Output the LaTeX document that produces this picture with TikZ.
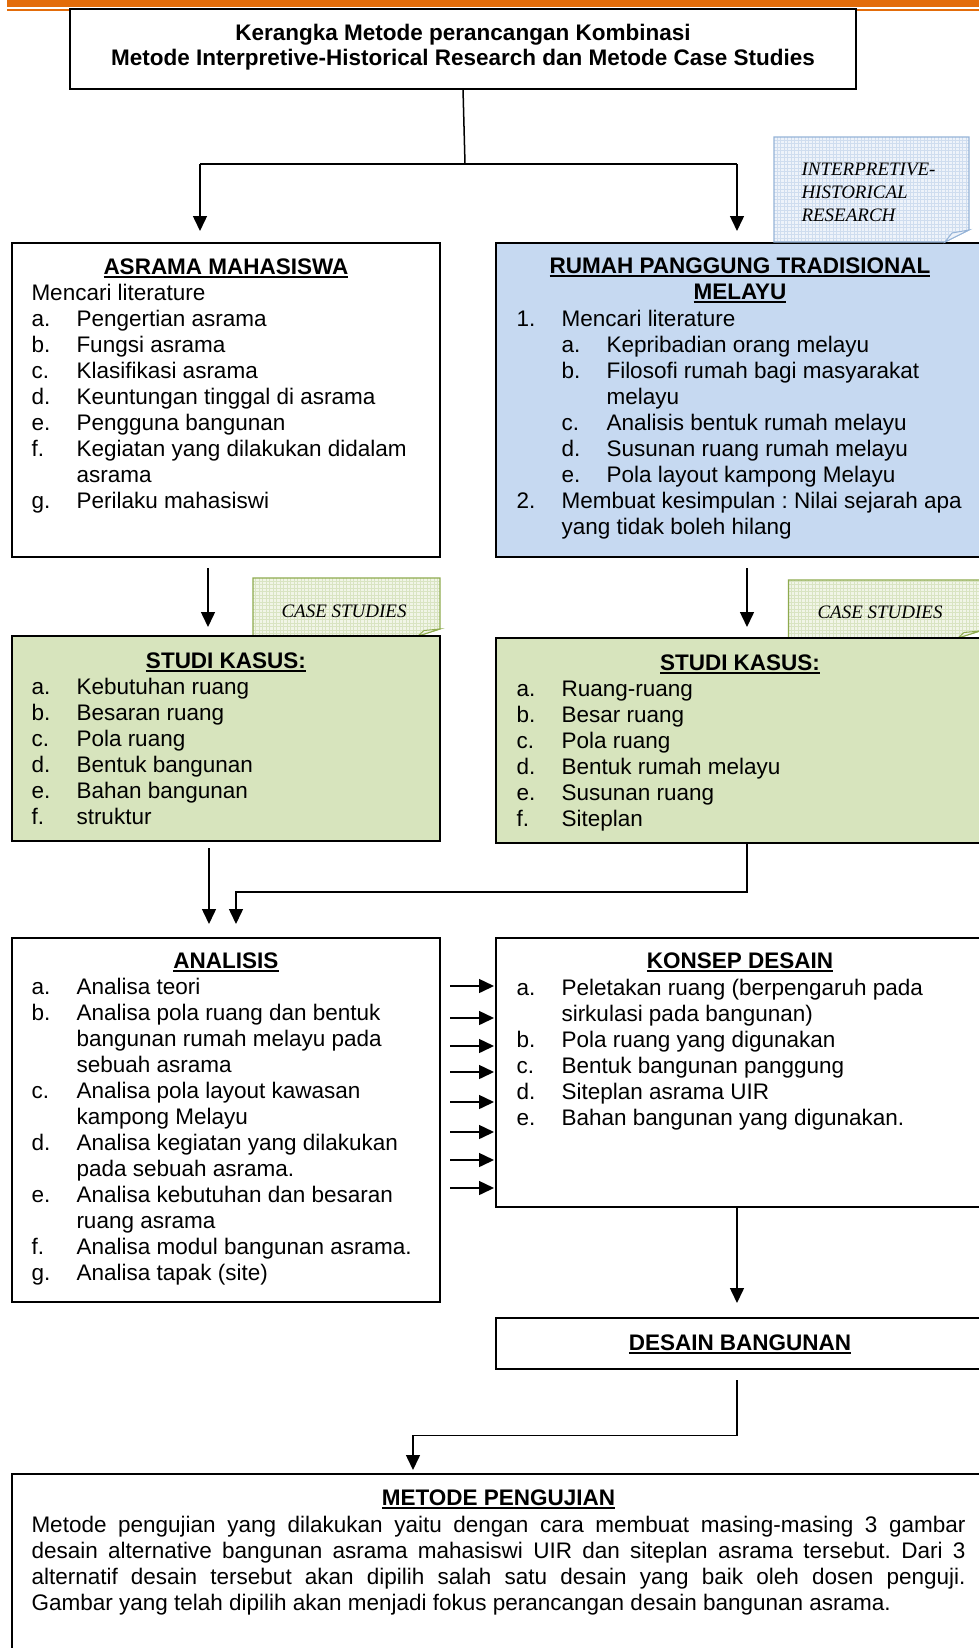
\documentclass[tikz,border=0pt]{standalone}
\usepackage{fontspec}
\setmainfont{Liberation Sans}
\newfontfamily\notefont{Liberation Serif}
\usetikzlibrary{arrows.meta}
\frenchspacing
\definecolor{orangebar}{HTML}{E36C0A}
\definecolor{bluefill}{HTML}{C6D9F1}
\definecolor{greenfill}{HTML}{D7E4BD}
\definecolor{notebluefill}{HTML}{EEF3FA}
\definecolor{notebluegrid}{HTML}{CFDDEF}
\definecolor{noteblueline}{HTML}{95B3D7}
\definecolor{notegreenfill}{HTML}{F1F5E7}
\definecolor{notegreengrid}{HTML}{D9E4C2}
\definecolor{notegreenline}{HTML}{8EAA4E}
\newcommand\hul[1]{\setbox0\hbox{#1}\rlap{\raisebox{-3.8pt}{\rule{\wd0}{1.9pt}}}\box0}
\newcommand\rowitem[6]{\node[txt] (#1a) at (#2,#4) {#5};\node[txt] (#1b) at (#3,#4) {#6};}
\tikzset{
  box/.style={draw=black, line width=1.8pt, rectangle, inner sep=0pt, outer sep=0pt, anchor=north west},
  txt/.style={anchor=base west, inner sep=0pt, outer sep=0pt, font=\fontsize{22.5}{26}\selectfont},
  hd/.style={anchor=base, inner sep=0pt, outer sep=0pt, font=\fontsize{22.5}{26}\selectfont\bfseries},
  notetxt/.style={anchor=base west, inner sep=0pt, outer sep=0pt, font=\notefont\itshape\fontsize{19}{23}\selectfont},
  con/.style={line width=1.5pt},
  arr/.style={line width=1.5pt, -{Triangle[length=15pt,width=14pt]}},
}
\begin{document}
\begin{tikzpicture}[x=1pt,y=-1pt]
\useasboundingbox (0,0) rectangle (979,1648);
\clip (0,0) rectangle (979,1648);
% orange header lines
\fill[orangebar] (7,0) rectangle (979,7.3);
\fill[orangebar] (7,9) rectangle (979,10.7);

% ---------- title ----------
\node[box, fill=white, minimum width=786pt, minimum height=80pt] (title) at (70,9) {};
\node[hd] (t1) at (463,40.5) {Kerangka Metode perancangan Kombinasi};
\node[hd] (t2) at (463,65.5) {Metode Interpretive-Historical Research dan Metode Case Studies};

\coordinate (split) at (465,164);
\coordinate (tl) at (200,164);
\coordinate (tr) at (737,164);
\coordinate (tlend) at (200,231);
\coordinate (trend) at (737,231);
\draw[con] (title.south) -- (split);
\draw[con] (tl) -- (tr);
\draw[arr] (tl) -- (tlend);
\draw[arr] (tr) -- (trend);

% ---------- ASRAMA MAHASISWA ----------
\node[box, minimum width=428pt, minimum height=314pt] (asrama) at (12,243) {};
\node[hd] (asramah) at (226,274) {\hul{ASRAMA MAHASISWA}};
\node[txt] (as0) at (31.5,300) {Mencari literature};
\rowitem{as1}{31.5}{76.5}{326}{a.}{Pengertian asrama}
\rowitem{as2}{31.5}{76.5}{352}{b.}{Fungsi asrama}
\rowitem{as3}{31.5}{76.5}{378}{c.}{Klasifikasi asrama}
\rowitem{as4}{31.5}{76.5}{404}{d.}{Keuntungan tinggal di asrama}
\rowitem{as5}{31.5}{76.5}{430}{e.}{Pengguna bangunan}
\rowitem{as6}{31.5}{76.5}{456}{f.}{Kegiatan yang dilakukan didalam}
\node[txt] (as6c) at (76.5,482) {asrama};
\rowitem{as7}{31.5}{76.5}{508}{g.}{Perilaku mahasiswi}

% ---------- RUMAH PANGGUNG ----------
\node[box, fill=bluefill, minimum width=494pt, minimum height=314pt] (rumah) at (496,243) {};
\node[hd] (rumahh1) at (740,273) {\hul{RUMAH PANGGUNG TRADISIONAL}};
\node[hd] (rumahh2) at (740,299) {\hul{MELAYU}};
\rowitem{ru0}{516.5}{561.5}{326}{1.}{Mencari literature}
\rowitem{ru1}{561.5}{606.5}{352}{a.}{Kepribadian orang melayu}
\rowitem{ru2}{561.5}{606.5}{378}{b.}{Filosofi rumah bagi masyarakat}
\node[txt] (ru2c) at (606.5,404) {melayu};
\rowitem{ru3}{561.5}{606.5}{430}{c.}{Analisis bentuk rumah melayu}
\rowitem{ru4}{561.5}{606.5}{456}{d.}{Susunan ruang rumah melayu}
\rowitem{ru5}{561.5}{606.5}{482}{e.}{Pola layout kampong Melayu}
\rowitem{ru6}{516.5}{561.5}{508}{2.}{Membuat kesimpulan : Nilai sejarah apa}
\node[txt] (ru6c) at (561.5,534) {yang tidak boleh hilang};

% ---------- note: interpretive-historical ----------
\begin{scope}
  \clip (774,137) -- (969,137) -- (969,230) -- (945,242) -- (774,242) -- cycle;
  \fill[notebluefill] (774,137) rectangle (969,242);
  \draw[notebluegrid, line width=0.4pt, step=3.5pt] (774,137) grid (969,242);
\end{scope}
\draw[noteblueline, line width=1.1pt] (774,137) -- (969,137) -- (969,230) -- (945,242) -- (774,242) -- cycle;
\filldraw[fill=notebluefill, draw=noteblueline, line width=1pt] (945,242) -- (969,230) -- (952,233) -- cycle;
\node[notetxt] (ih1) at (801.5,175.5) {INTERPRETIVE-};
\node[notetxt] (ih2) at (801.5,198.5) {HISTORICAL};
\node[notetxt] (ih3) at (801.5,221.5) {RESEARCH};

% arrows to studi kasus
\coordinate (al1) at (208,568);
\coordinate (al2) at (208,627);
\coordinate (ar1) at (747,568);
\coordinate (ar2) at (747,627);
\draw[arr] (al1) -- (al2);
\draw[arr] (ar1) -- (ar2);

% ---------- note: case studies left ----------
\begin{scope}
  \clip (253,578) -- (440,578) -- (440,629) -- (418,636) -- (253,636) -- cycle;
  \fill[notegreenfill] (253,578) rectangle (440,636);
  \draw[notegreengrid, line width=0.4pt, step=3.5pt] (253,578) grid (440,636);
\end{scope}
\draw[notegreenline, line width=1.1pt] (253,578) -- (440,578) -- (440,629) -- (418,636) -- (253,636) -- cycle;
\filldraw[fill=notegreenfill, draw=notegreenline, line width=1pt] (418,636) -- (440,629) -- (424,630.5) -- cycle;
\node[notetxt] (csl) at (281.5,617) {CASE STUDIES};

% ---------- note: case studies right ----------
\begin{scope}
  \clip (788.5,580) -- (980,580) -- (980,631) -- (958,638) -- (788.5,638) -- cycle;
  \fill[notegreenfill] (788.5,580) rectangle (980,638);
  \draw[notegreengrid, line width=0.4pt, step=3.5pt] (788.5,580) grid (980,638);
\end{scope}
\draw[notegreenline, line width=1.1pt] (788.5,580) -- (980,580) -- (980,631) -- (958,638) -- (788.5,638) -- cycle;
\filldraw[fill=notegreenfill, draw=notegreenline, line width=1pt] (958,638) -- (980,631) -- (964,632.5) -- cycle;
\node[notetxt] (csr) at (817.5,618.5) {CASE STUDIES};

% ---------- STUDI KASUS left ----------
\node[box, fill=greenfill, minimum width=428pt, minimum height=205pt] (skl) at (12,636) {};
\node[hd] (sklh) at (226,668) {\hul{STUDI KASUS:}};
\rowitem{sl1}{31.5}{76.5}{694}{a.}{Kebutuhan ruang}
\rowitem{sl2}{31.5}{76.5}{720}{b.}{Besaran ruang}
\rowitem{sl3}{31.5}{76.5}{746}{c.}{Pola ruang}
\rowitem{sl4}{31.5}{76.5}{772}{d.}{Bentuk bangunan}
\rowitem{sl5}{31.5}{76.5}{798}{e.}{Bahan bangunan}
\rowitem{sl6}{31.5}{76.5}{824}{f.}{struktur}

% ---------- STUDI KASUS right ----------
\node[box, fill=greenfill, minimum width=494pt, minimum height=205pt] (skr) at (496,638) {};
\node[hd] (skrh) at (740,670) {\hul{STUDI KASUS:}};
\rowitem{sr1}{516.5}{561.5}{696}{a.}{Ruang-ruang}
\rowitem{sr2}{516.5}{561.5}{722}{b.}{Besar ruang}
\rowitem{sr3}{516.5}{561.5}{748}{c.}{Pola ruang}
\rowitem{sr4}{516.5}{561.5}{774}{d.}{Bentuk rumah melayu}
\rowitem{sr5}{516.5}{561.5}{800}{e.}{Susunan ruang}
\rowitem{sr6}{516.5}{561.5}{826}{f.}{Siteplan}

% connectors to analisis
\coordinate (bl1) at (209,848);
\coordinate (bl2) at (209,924);
\coordinate (br1) at (747,843);
\coordinate (br2) at (747,892);
\coordinate (br3) at (236,892);
\coordinate (br4) at (236,924);
\draw[arr] (bl1) -- (bl2);
\draw[arr] (br1) -- (br2) -- (br3) -- (br4);

% ---------- ANALISIS ----------
\node[box, minimum width=428pt, minimum height=364pt] (analisis) at (12,938) {};
\node[hd] (anh) at (226,968) {\hul{ANALISIS}};
\rowitem{an1}{31.5}{76.5}{994}{a.}{Analisa teori}
\rowitem{an2}{31.5}{76.5}{1020}{b.}{Analisa pola ruang dan bentuk}
\node[txt] (an2c) at (76.5,1046) {bangunan rumah melayu pada};
\node[txt] (an2d) at (76.5,1072) {sebuah asrama};
\rowitem{an3}{31.5}{76.5}{1098}{c.}{Analisa pola layout kawasan}
\node[txt] (an3c) at (76.5,1124) {kampong Melayu};
\rowitem{an4}{31.5}{76.5}{1150}{d.}{Analisa kegiatan yang dilakukan}
\node[txt] (an4c) at (76.5,1176) {pada sebuah asrama.};
\rowitem{an5}{31.5}{76.5}{1202}{e.}{Analisa kebutuhan dan besaran}
\node[txt] (an5c) at (76.5,1228) {ruang asrama};
\rowitem{an6}{31.5}{76.5}{1254}{f.}{Analisa modul bangunan asrama.}
\rowitem{an7}{31.5}{76.5}{1280}{g.}{Analisa tapak (site)}

% ---------- KONSEP DESAIN ----------
\node[box, minimum width=494pt, minimum height=269pt] (konsep) at (496,938) {};
\node[hd] (koh) at (740,968) {\hul{KONSEP DESAIN}};
\rowitem{ko1}{516.5}{561.5}{995}{a.}{Peletakan ruang (berpengaruh pada}
\node[txt] (ko1c) at (561.5,1021) {sirkulasi pada bangunan)};
\rowitem{ko2}{516.5}{561.5}{1047}{b.}{Pola ruang yang digunakan}
\rowitem{ko3}{516.5}{561.5}{1073}{c.}{Bentuk bangunan panggung}
\rowitem{ko4}{516.5}{561.5}{1099}{d.}{Siteplan asrama UIR}
\rowitem{ko5}{516.5}{561.5}{1125}{e.}{Bahan bangunan yang digunakan.}

% arrows analisis -> konsep
\foreach \yy [count=\k] in {986,1018,1046,1072,1102,1132,1160,1188}{
  \coordinate (ka\k) at (450,\yy);
  \coordinate (kb\k) at (494,\yy);
  \draw[arr] (ka\k) -- (kb\k);
}

% konsep -> desain
\coordinate (kd2) at (737,1303);
\draw[arr] (konsep.south -| kd2) -- (kd2);

% ---------- DESAIN BANGUNAN ----------
\node[box, minimum width=494pt, minimum height=51pt] (desain) at (496,1318) {};
\node[hd] (deh) at (740,1350) {\hul{DESAIN BANGUNAN}};

\coordinate (dm1) at (737,1380);
\coordinate (dm2) at (737,1435.5);
\coordinate (dm3) at (413,1435.5);
\coordinate (dm4) at (413,1470);
\draw[arr] (dm1) -- (dm2) -- (dm3) -- (dm4);

% ---------- METODE PENGUJIAN ----------
\node[box, minimum width=978pt, minimum height=226pt] (metode) at (12,1474) {};
\node[hd] (meh) at (498.5,1505.5) {\hul{METODE PENGUJIAN}};
\node[txt] (mp1) at (31.5,1532) {\makebox[934pt][s]{Metode pengujian yang dilakukan yaitu dengan cara membuat masing-masing 3 gambar}};
\node[txt] (mp2) at (31.5,1558) {\makebox[934pt][s]{desain alternative bangunan asrama mahasiswi UIR dan siteplan asrama tersebut. Dari 3}};
\node[txt] (mp3) at (31.5,1584) {\makebox[934pt][s]{alternatif desain tersebut akan dipilih salah satu desain yang baik oleh dosen penguji.}};
\node[txt] (mp4) at (31.5,1610) {Gambar yang telah dipilih akan menjadi fokus perancangan desain bangunan asrama.};
\end{tikzpicture}
\end{document}
